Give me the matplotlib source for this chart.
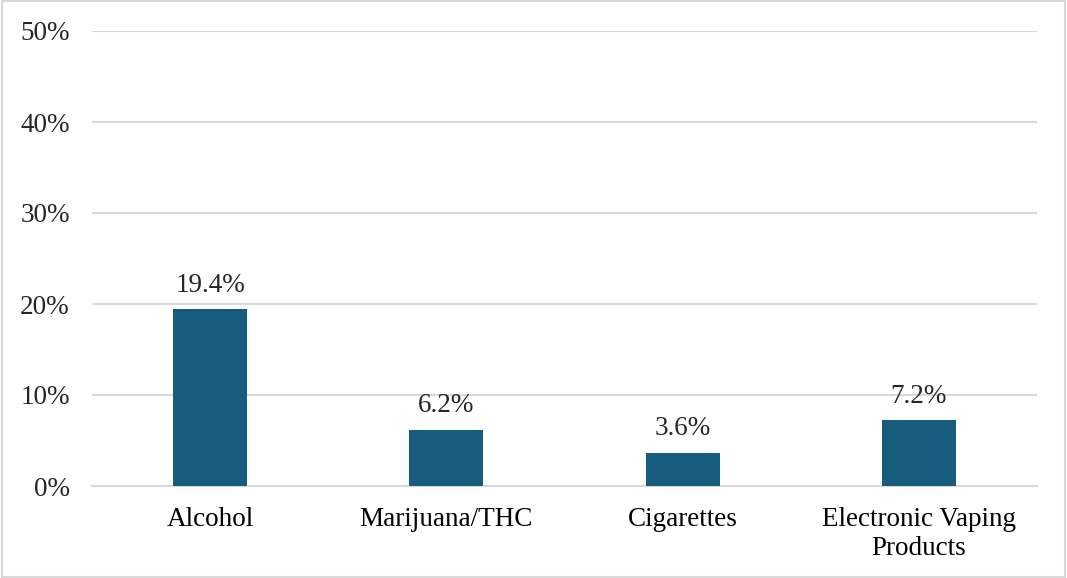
import matplotlib
matplotlib.use("Agg")
import matplotlib.pyplot as plt
from matplotlib.patches import Rectangle

categories = ["Alcohol", "Marijuana/THC", "Cigarettes", "Electronic Vaping\nProducts"]
values = [19.4, 6.2, 3.6, 7.2]
yticks = [0, 10, 20, 30, 40, 50]

plt.rcParams['font.family'] = ['Liberation Serif', 'DejaVu Serif']

fig = plt.figure(figsize=(10.67, 5.78), dpi=100)
ax = fig.add_axes([92/1067, 1-486/578, (1037-92)/1067, (486-31)/578])

FS = 19.5
x = list(range(len(categories)))
ax.bar(x, values, width=0.313, color="#175c7c", zorder=3)
for xi, v in zip(x, values):
    ax.text(xi, v + 1.3, f"{v:.1f}%", ha="center", va="bottom", fontsize=FS, color="#262626")

ax.set_xlim(-0.5, len(categories) - 0.5)
ax.set_ylim(0, 50)
ax.set_yticks(yticks)
ax.set_yticklabels([f"{t}%" for t in yticks], fontsize=FS, color="#262626")
ax.set_xticks(x)
ax.set_xticklabels(categories, fontsize=FS, color="#000000", linespacing=1.2)
ax.tick_params(axis="both", length=0)
ax.tick_params(axis="y", pad=16)
ax.tick_params(axis="x", pad=15)
ax.grid(axis="y", color="#d9d9d9", linewidth=1.5, zorder=0)
for s in ["top", "right", "left"]:
    ax.spines[s].set_visible(False)
ax.spines["bottom"].set_color("#d9d9d9")
ax.spines["bottom"].set_linewidth(1.5)

fig.patches.append(Rectangle((0.002, 0.002), 0.996, 0.996, transform=fig.transFigure,
                             fill=False, edgecolor="#d9d9d9", linewidth=1.5))

fig.savefig("out.png", dpi=100)
